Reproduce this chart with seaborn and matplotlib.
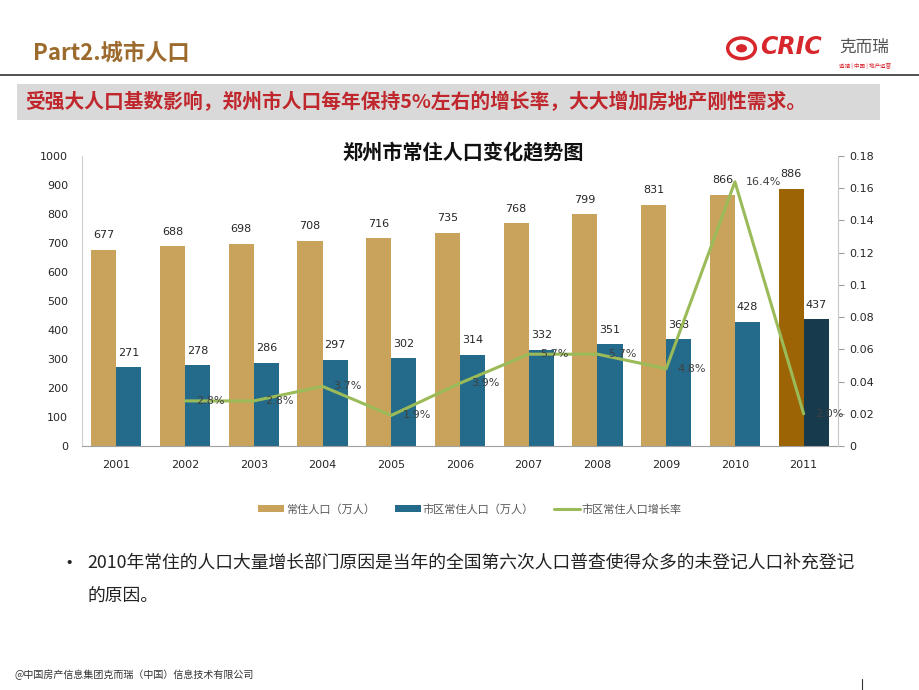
import matplotlib
matplotlib.use("Agg")
import matplotlib.pyplot as plt
from matplotlib.lines import Line2D
from matplotlib.patches import Patch, Ellipse
import seaborn as sns
import pandas as pd
import numpy as np

# data
years = ["2001", "2002", "2003", "2004", "2005", "2006",
         "2007", "2008", "2009", "2010", "2011"]
resident = [677, 688, 698, 708, 716, 735, 768, 799, 831, 866, 886]
urban = [271, 278, 286, 297, 302, 314, 332, 351, 368, 428, 437]
rate_years = ["2002", "2003", "2004", "2005", "2006",
              "2007", "2008", "2009", "2010", "2011"]
rate = [0.028, 0.028, 0.037, 0.019, 0.039, 0.057, 0.057, 0.048, 0.164, 0.020]
rate_labels = ["2.8%", "2.8%", "3.7%", "1.9%", "3.9%", "5.7%",
               "5.7%", "4.8%", "16.4%", "2.0%"]
series_names = ["常住人口（万人）", "市区常住人口（万人）", "市区常住人口增长率"]

gold = "#C9A35C"
blue = "#246A8A"
gold_dark = "#9C6404"
blue_dark = "#173A4C"
green = "#9BBB59"

sns.set_style("white")
plt.rcParams['font.family'] = ['Noto Sans CJK SC', 'DejaVu Sans']

df = pd.DataFrame({
    "year": years * 2,
    "value": resident + urban,
    "series": [series_names[0]] * len(years) + [series_names[1]] * len(years),
})

fig = plt.figure(figsize=(9.2, 6.9), dpi=100)
ax = fig.add_axes([0.0891, 0.3536, 0.8218, 0.4203])

sns.barplot(data=df, x="year", y="value", hue="series", order=years,
            palette=[gold, blue], saturation=1, width=0.73, linewidth=0,
            legend=False, ax=ax)

# 2011 bars are highlighted in darker tones
ax.containers[0][-1].set_facecolor(gold_dark)
ax.containers[1][-1].set_facecolor(blue_dark)

for cont in ax.containers:
    ax.bar_label(cont, fmt="%d", padding=7, fontsize=8, color="#262626",
                 family="DejaVu Sans")

ax.set_ylim(0, 1000)
ax.set_yticks(range(0, 1001, 100))
ax.set_xlim(-0.5, 10.5)
ax.set_xlabel("")
ax.set_ylabel("")
ax.tick_params(axis="both", length=0, labelsize=8, colors="#262626", pad=10)
ax.tick_params(axis="y", pad=10)
for lab in ax.get_xticklabels() + ax.get_yticklabels():
    lab.set_family("DejaVu Sans")
for s in ["top", "right"]:
    ax.spines[s].set_visible(False)
ax.spines["left"].set_color("#D0D0D0")
ax.spines["bottom"].set_color("#A0A0A0")

ax2 = ax.twinx()
xpos = [years.index(y) for y in rate_years]
sns.lineplot(x=xpos, y=rate, color=green, linewidth=2.2, ax=ax2)
ax2.set_ylim(0, 0.18)
ax2.set_yticks(np.arange(0, 0.181, 0.02))
ax2.set_yticklabels(["0", "0.02", "0.04", "0.06", "0.08", "0.1",
                     "0.12", "0.14", "0.16", "0.18"], family="DejaVu Sans")
ax2.tick_params(axis="y", length=4, width=0.8, color="#A0A0A0",
                labelsize=8, labelcolor="#262626", pad=4)
for s in ["top", "left", "bottom"]:
    ax2.spines[s].set_visible(False)
ax2.spines["right"].set_color("#C8C8C8")
ax2.set_xlim(-0.5, 10.5)

for x, y, t in zip(xpos, rate, rate_labels):
    ax2.annotate(t, (x, y), xytext=(8, 0), textcoords="offset points",
                 ha="left", va="center", fontsize=8, color="#404040",
                 family="DejaVu Sans")

fig.text(0.503, 0.78, "郑州市常住人口变化趋势图", ha="center", va="center",
         fontsize=14.5, fontweight="bold", color="#111111")

handles = [Patch(facecolor=gold, edgecolor="none"),
           Patch(facecolor=blue, edgecolor="none"),
           Line2D([0], [0], color=green, linewidth=2.2)]
fig.legend(handles, series_names, loc="center", bbox_to_anchor=(0.511, 0.262),
           ncol=3, frameon=False, fontsize=8, labelcolor="#595959",
           handlelength=2.3, handleheight=0.6, handletextpad=0.2,
           columnspacing=1.8)

# slide header
fig.text(0.036, 0.923, "Part2.城市人口", ha="left", va="center",
         fontsize=16, fontweight="bold", color="#9B6A2C")
fig.add_artist(Line2D([0, 1], [0.892, 0.892], color="#333333", linewidth=1.2))
fig.patches.append(Ellipse((0.806, 0.93), 0.03, 0.03, transform=fig.transFigure,
                           facecolor="none", edgecolor="#D7262C", linewidth=2.5))
fig.patches.append(Ellipse((0.806, 0.93), 0.012, 0.012, transform=fig.transFigure,
                           facecolor="#D7262C", edgecolor="none"))
fig.text(0.826, 0.932, "CRIC", ha="left", va="center", fontsize=17,
         fontweight="heavy", fontstyle="italic", color="#D7262C",
         family="DejaVu Sans")
fig.text(0.912, 0.932, "克而瑞", ha="left", va="center", fontsize=12,
         color="#555555")
fig.text(0.912, 0.905, "透视 | 中国 | 地产运营", ha="left", va="center",
         fontsize=4, color="#D7262C")

fig.patches.append(plt.Rectangle((0.018, 0.826), 0.939, 0.052,
                                 transform=fig.transFigure,
                                 facecolor="#D9D9D9", edgecolor="none"))
fig.text(0.027, 0.852, "受强大人口基数影响，郑州市人口每年保持5%左右的增长率，大大增加房地产刚性需求。",
         ha="left", va="center", fontsize=14.2, fontweight="bold",
         color="#C0272D")

# bullet note
fig.text(0.065, 0.184, "•", ha="left", va="center", fontsize=14, color="#222222")
fig.text(0.095, 0.184, "2010年常住的人口大量增长部门原因是当年的全国第六次人口普查使得众多的未登记人口补充登记",
         ha="left", va="center", fontsize=12.8, color="#222222")
fig.text(0.095, 0.135, "的原因。", ha="left", va="center", fontsize=12.8,
         color="#222222")

fig.text(0.016, 0.022, "@中国房产信息集团克而瑞（中国）信息技术有限公司",
         ha="left", va="center", fontsize=7.2, color="#333333")
fig.add_artist(Line2D([0.937, 0.937], [0.0, 0.016], color="#333333",
                      linewidth=0.8))

fig.savefig("out.png", dpi=100)
